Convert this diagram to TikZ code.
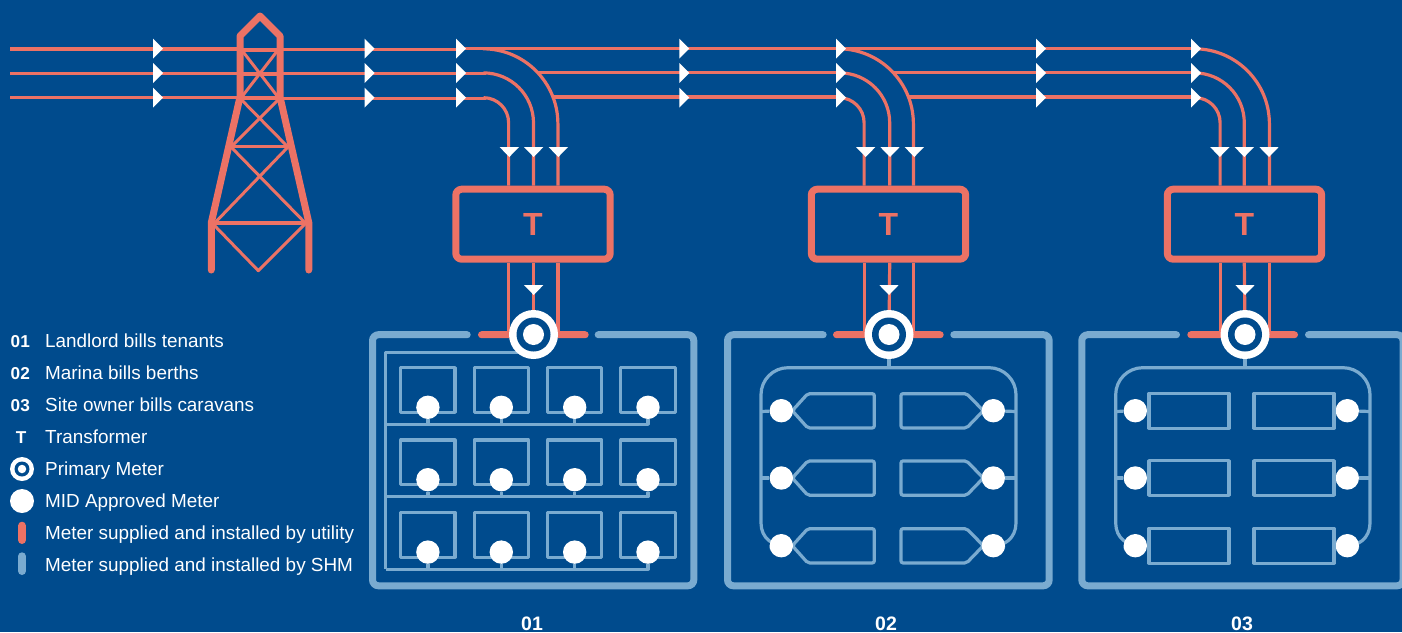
\documentclass[tikz,border=0pt]{standalone}
\usepackage{fontspec}
\setmainfont{Liberation Sans}
\usetikzlibrary{backgrounds}
\definecolor{ink}{HTML}{004B8D}
\definecolor{salmon}{HTML}{EC7265}
\definecolor{sky}{HTML}{7AABD0}
\tikzset{
	wire/.style = {draw=salmon, line width=3.2pt},
	leg/.style = {draw=salmon, line width=7pt, line cap=round, line join=round},
	brace/.style = {draw=salmon, line width=3pt, line cap=round},
	tipbox/.style = {fill=white},
	tbox/.style = {draw=salmon, text=salmon, line width=7pt, rounded corners=6pt, minimum width=154.4pt, minimum height=70pt, inner sep=0pt, font=\fontsize{32}{32}\selectfont\bfseries},
	site/.style = {draw=sky, line width=7pt, line cap=round, rounded corners=6pt},
	bar/.style = {draw=salmon, line width=7pt, line cap=round},
	feed/.style = {draw=sky, line width=3.2pt, line join=round},
	room/.style = {draw=sky, line width=3.2pt, line join=round, minimum width=54.3pt, minimum height=44.7pt, inner sep=0pt},
	bay/.style = {draw=sky, line width=3.2pt, line join=round, minimum width=80.1pt, minimum height=34.8pt, inner sep=0pt},
	boat/.style = {draw=sky, line width=3.2pt, rounded corners=2pt},
	midmeter/.style = {circle, fill=white, minimum size=23.4pt, inner sep=0pt},
	mainmeter/.style = {circle, fill=white, minimum size=49pt, inner sep=0pt},
	mainring/.style = {circle, fill=ink, minimum size=34pt, inner sep=0pt},
	maindot/.style = {circle, fill=white, minimum size=21pt, inner sep=0pt},
	key/.style = {text=white, anchor=base west, inner sep=0pt, font=\fontsize{17.2}{20}\selectfont\bfseries},
	legtext/.style = {text=white, anchor=base west, inner sep=0pt, font=\fontsize{18.9}{20}\selectfont},
	sitelabel/.style = {text=white, inner sep=0pt, font=\fontsize{19.5}{20}\selectfont\bfseries},
}
\begin{document}
\begin{tikzpicture}[x=1pt, y=-1pt]
	\begin{pgfonlayer}{background}
		\path[use as bounding box, fill=ink] (0,0) rectangle (1402,632);
	\end{pgfonlayer}
	\clip (0,0) rectangle (1402,632);

	\node[tbox] (T1) at (533,224.2) {T};
	\node[tbox] (T2) at (888.5,224.2) {T};
	\node[tbox] (T3) at (1244.5,224.2) {T};

	\foreach \i/\x in {1/533.5,2/889,3/1245} {
		\node[mainmeter] (M\i) at (\x,334.5) {};
		\node[mainring] at (M\i) {};
		\node[maindot] at (M\i) {};
	}

	\draw[site] (467.2,334.7) -- (372.5,334.7) -- (372.5,585.8) -- (693.8,585.8) -- (693.8,334.7) -- (598.2,334.7);
	\draw[site] (823.2,334.7) -- (727.5,334.7) -- (727.5,585.8) -- (1049.2,585.8) -- (1049.2,334.7) -- (953.8,334.7);
	\draw[site] (1176.5,334.7) -- (1081.8,334.7) -- (1081.8,585.8) -- (1403,585.8) -- (1403,334.7) -- (1308.5,334.7);

	\begin{pgfonlayer}{background}
		\coordinate (in1) at (10,49);
		\coordinate (in2) at (10,73.3);
		\coordinate (in3) at (10,97.7);

		\draw[wire] (in1) -- (240,49);
		\draw[wire] (in2) -- (240,73.3);
		\draw[wire] (in3) -- (240,97.7);
		\draw[wire] (240,49.6) -- (460,49.6);
		\draw[wire] (240,73.8) -- (486,73.8);
		\draw[wire] (240,98.3) -- (486,98.3);

		\draw[wire] (460,48.4) -- (1200,48.4);
		\draw[wire] (537,72.7) -- (842,72.7);
		\draw[wire] (554,97) -- (842,97);
		\draw[wire] (893,72.7) -- (1197,72.7);
		\draw[wire] (909,97) -- (1197,97);

		\foreach \n/\x in {1/533.5,2/889.7,3/1244.3} {
			\draw[wire, rounded corners=25pt] (\x-49,97.7) -| ([xshift=-24.4pt]T\n.north);
			\draw[wire, rounded corners=50pt] (\x-49,72.9) -| (T\n.north -| \x,0);
			\draw[wire, rounded corners=75pt] (\x-49,48.8) -| ([xshift=24.9pt]T\n.north);
			\draw[wire] ([xshift=-24.4pt]T\n.south) -- ([xshift=-24.4pt]T\n.south |- M\n);
			\draw[wire] (T\n.south -| \x,0) -- (M\n);
			\draw[wire] ([xshift=24.9pt]T\n.south) -- ([xshift=24.9pt]T\n.south |- M\n);
		}

		\draw[bar] (481.5,334.7) -- (M1);
		\draw[bar] (M1) -- (585.2,334.7);
		\draw[bar] (836.5,334.7) -- (M2);
		\draw[bar] (M2) -- (940.2,334.7);
		\draw[bar] (1190.8,334.7) -- (M3);
		\draw[bar] (M3) -- (1294.5,334.7);
	\end{pgfonlayer}

	\foreach \x in {153,364.5,456,679.3,836,1036,1191} {
		\foreach \y in {48.6,73,97.6} {
			\fill[tipbox] (\x,\y-10) -- (\x+10,\y) -- (\x,\y+10) -- cycle;
		}
	}
	\foreach \x in {509.3,533.7,558.3,865.7,890,914.3,1219.8,1244.3,1269} {
		\fill[tipbox] (\x-9.7,147) -- (\x+9.7,147) -- (\x,157) -- cycle;
	}
	\foreach \x in {533.7,889,1245} {
		\fill[tipbox] (\x-9.7,285) -- (\x+9.7,285) -- (\x,295) -- cycle;
	}

	\draw[leg] (211.3,270) -- (211.3,222.7) -- (240,97) -- (240,36) -- (260,16) -- (280,36) -- (280,97) -- (308.8,222.7) -- (308.8,270);
	\draw[brace] (241,50) -- (280,50);
	\draw[brace] (241,74) -- (280,74);
	\draw[brace] (241,97) -- (280,97);
	\draw[brace] (241.7,50) -- (278,97);
	\draw[brace] (278,50) -- (241.7,97);
	\draw[brace] (241.7,100) -- (287,146);
	\draw[brace] (278,100) -- (232,146);
	\draw[brace] (233,146) -- (287,146);
	\draw[brace] (232,148) -- (305,222.7);
	\draw[brace] (287,148) -- (215,222.7);
	\draw[brace, line width=4pt] (213,222.7) -- (307,222.7);
	\draw[brace, line join=round] (213,224) -- (258.3,270.7) -- (305,224);

	\coordinate (S) at (385.7,352.3);
	\foreach \r/\y in {1/390,2/462.4,3/534.8} {
		\coordinate (B\r) at (648,\y+34.3);
		\foreach \c/\x in {1/427.9,2/501.3,3/574.7,4/648} {
			\node[room] (R\r\c) at (\x,\y) {};
			\node[midmeter] (D\r\c) at (\x,\y+17.3) {};
			\begin{pgfonlayer}{background}
				\draw[feed] (D\r\c) -- (D\r\c |- B\r);
			\end{pgfonlayer}
		}
		\begin{pgfonlayer}{background}
			\draw[feed] (S |- B\r) -| (D\r4);
		\end{pgfonlayer}
	}
	\begin{pgfonlayer}{background}
		\draw[feed] (M1 |- S) -- (S) -- (S |- B3);
	\end{pgfonlayer}

	\foreach \r/\y in {a/410.7,b/478,c/545.7} {
		\node[midmeter] (P\r) at (781.3,\y) {};
		\node[midmeter] (Q\r) at (993.3,\y) {};
		\begin{pgfonlayer}{background}
			\draw[boat] (792.3,\y) -- (807.7,\y-17) -- (874.3,\y-17) -- (874.3,\y+17.2) -- (807.7,\y+17.2) -- cycle;
			\draw[boat] (983.3,\y) -- (966.7,\y-17) -- (901,\y-17) -- (901,\y+17.2) -- (966.7,\y+17.2) -- cycle;
		\end{pgfonlayer}
		\node[midmeter] (U\r) at (1135.3,\y) {};
		\node[midmeter] (V\r) at (1347.3,\y) {};
		\node[bay] (Y\r) at (1189,\y) {};
		\node[bay] (Z\r) at (1294,\y) {};
	}
	\begin{pgfonlayer}{background}
		\draw[feed, rounded corners=27pt] (Pc) -- (761,550) -- (761,367.7) -- (1016,367.7) -- (1016,550) -- (Qc);
		\draw[feed] (M2) -- (M2 |- 0,367.7);
		\draw[feed] (Pa) -- (761,411.5);
		\draw[feed] (Pb) -- (761,478);
		\draw[feed] (Qa) -- (1016,411.5);
		\draw[feed] (Qb) -- (1016,478);
		\draw[feed, rounded corners=27pt] (Uc) -- (1115.7,550) -- (1115.7,367.7) -- (1370,367.7) -- (1370,550) -- (Vc);
		\draw[feed] (M3) -- (M3 |- 0,367.7);
		\draw[feed] (Ua) -- (1115.7,411.5);
		\draw[feed] (Ub) -- (1115.7,478);
		\draw[feed] (Va) -- (1370,411.5);
		\draw[feed] (Vb) -- (1370,478);
	\end{pgfonlayer}

	\node[sitelabel] (s1) at (532,623.7) {01};
	\node[sitelabel] (s2) at (886,623.7) {02};
	\node[sitelabel] (s3) at (1242,623.7) {03};

	\node[key] (k1) at (10.5,347) {01};
	\node[key] (k2) at (10.5,379) {02};
	\node[key] (k3) at (10.5,411) {03};
	\node[key] (k4) at (15.8,443) {T};
	\node[circle, fill=white, minimum size=24pt, inner sep=0pt] (k5) at (22,469) {};
	\node[circle, fill=ink, minimum size=15pt, inner sep=0pt] at (k5) {};
	\node[circle, fill=white, minimum size=8.5pt, inner sep=0pt] at (k5) {};
	\node[circle, fill=white, minimum size=24pt, inner sep=0pt] (k6) at (22,501) {};
	\draw[line width=8pt, line cap=round, salmon] (22,525.7) -- (22,540);
	\draw[line width=8pt, line cap=round, sky] (22,556.3) -- (22,571);

	\node[legtext] (l1) at (45,347) {Landlord bills tenants};
	\node[legtext] (l2) at (45,379) {Marina bills berths};
	\node[legtext] (l3) at (45,411) {Site owner bills caravans};
	\node[legtext] (l4) at (45,443) {Transformer};
	\node[legtext] (l5) at (45,475) {Primary Meter};
	\node[legtext] (l6) at (45,507) {MID Approved Meter};
	\node[legtext] (l7) at (45,539) {Meter supplied and installed by utility};
	\node[legtext] (l8) at (45,571) {Meter supplied and installed by SHM};
\end{tikzpicture}
\end{document}
